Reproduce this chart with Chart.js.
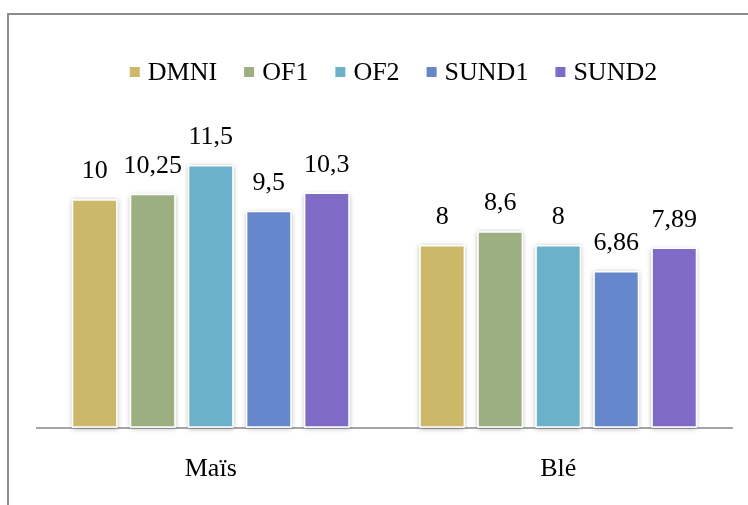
<!DOCTYPE html>
<html>
<head>
<meta charset="utf-8">
<style>
  html, body { margin: 0; padding: 0; background: #fff; overflow: hidden; width: 748px; height: 505px; }
  #frame { position: absolute; left: 7px; top: 13px; width: 800px; height: 530px;
           border-left: 2px solid #8c8c8c; border-top: 2px solid #8c8c8c; box-sizing: border-box; }
  #chart { position: absolute; left: 0; top: 0; }
</style>
<script src="https://cdn.jsdelivr.net/npm/chart.js@4/dist/chart.umd.min.js"></script>
</head>
<body>
<div id="frame"><canvas id="chart" width="770" height="515"></canvas></div>
<script>
// Crops and yield series
const categories = ['Maïs', 'Blé'];
const seriesNames = ['DMNI', 'OF1', 'OF2', 'SUND1', 'SUND2'];
const DMNI  = [10, 8];
const OF1   = [10.25, 8.6];
const OF2   = [11.5, 8];
const SUND1 = [9.5, 6.86];
const SUND2 = [10.3, 7.89];
const seriesColors = ['#CCB868', '#9CAF80', '#6AB1C9', '#6787CD', '#7F6AC7'];
const valueAxisMax = 14;

const FONT = "'Liberation Serif', 'Times New Roman', Times, serif";
const fmt = v => String(v).replace('.', ',');

// Soft shadow behind each bar
const barShadow = {
  id: 'barShadow',
  beforeDatasetsDraw(chart) {
    const ctx = chart.ctx;
    ctx.save();
    ctx.shadowColor = 'rgba(0,0,0,0.30)';
    ctx.shadowBlur = 5;
    ctx.shadowOffsetX = 0;
    ctx.shadowOffsetY = 1;
    ctx.fillStyle = '#ffffff';
    chart.data.datasets.forEach((ds, i) => {
      chart.getDatasetMeta(i).data.forEach(bar => {
        const w = bar.width;
        ctx.fillRect(bar.x - w / 2, bar.y, w, bar.base - bar.y);
      });
    });
    ctx.restore();
  }
};

// Value labels above the bars
const valueLabels = {
  id: 'valueLabels',
  afterDatasetsDraw(chart) {
    const ctx = chart.ctx;
    ctx.save();
    ctx.font = '26px ' + FONT;
    ctx.fillStyle = '#000';
    ctx.textAlign = 'center';
    ctx.textBaseline = 'alphabetic';
    chart.data.datasets.forEach((ds, i) => {
      chart.getDatasetMeta(i).data.forEach((bar, j) => {
        ctx.fillText(fmt(ds.data[j]), bar.x, bar.y - 21);
      });
    });
    ctx.restore();
  }
};

// Single-row legend: small square, short gap, series name
const rowLegend = {
  id: 'rowLegend',
  afterDraw(chart, args, opts) {
    const ctx = chart.ctx;
    ctx.save();
    ctx.font = '26px ' + FONT;
    ctx.textBaseline = 'middle';
    ctx.textAlign = 'left';
    const box = 10, textGap = 8, itemGap = 27;
    const items = chart.data.datasets.map(ds => ({
      text: ds.label, color: ds.backgroundColor, w: ctx.measureText(ds.label).width
    }));
    const total = items.reduce((s, it) => s + box + textGap + it.w, 0) + itemGap * (items.length - 1);
    let x = opts.centerX - total / 2;
    const y = opts.centerY;
    items.forEach(it => {
      ctx.fillStyle = it.color;
      ctx.fillRect(x, y - box / 2, box, box);
      ctx.fillStyle = '#000';
      ctx.fillText(it.text, x + box + textGap, y + 1);
      x += box + textGap + it.w + itemGap;
    });
    ctx.restore();
  }
};

const values = [DMNI, OF1, OF2, SUND1, SUND2];
const datasets = seriesNames.map((name, i) => ({
  label: name,
  data: values[i],
  backgroundColor: seriesColors[i],
  borderColor: '#ffffff',
  borderWidth: 1.5,
  borderSkipped: false,
  categoryPercentage: 0.835,
  barPercentage: 0.79
}));

function drawChart() {
  new Chart(document.getElementById('chart'), {
    type: 'bar',
    data: { labels: categories, datasets },
    options: {
      responsive: false,
      animation: false,
      devicePixelRatio: 1,
      layout: { padding: { left: 28, right: 47, top: 93, bottom: 19 } },
      plugins: {
        legend: { display: false },
        tooltip: { enabled: false },
        rowLegend: { centerX: 384.5, centerY: 57 }
      },
      scales: {
        x: {
          grid: { display: false, drawTicks: false },
          border: { display: true, color: '#a6a6a6', width: 2 },
          ticks: { color: '#000', padding: 26, font: { family: FONT, size: 26 } }
        },
        y: {
          display: false,
          min: 0,
          max: valueAxisMax
        }
      }
    },
    plugins: [barShadow, valueLabels, rowLegend]
  });
}

// Make sure the serif face is ready before the canvas text is drawn
if (document.fonts && document.fonts.load) {
  document.fonts.load("26px 'Liberation Serif'").then(drawChart, drawChart);
} else {
  drawChart();
}
</script>
</body>
</html>
